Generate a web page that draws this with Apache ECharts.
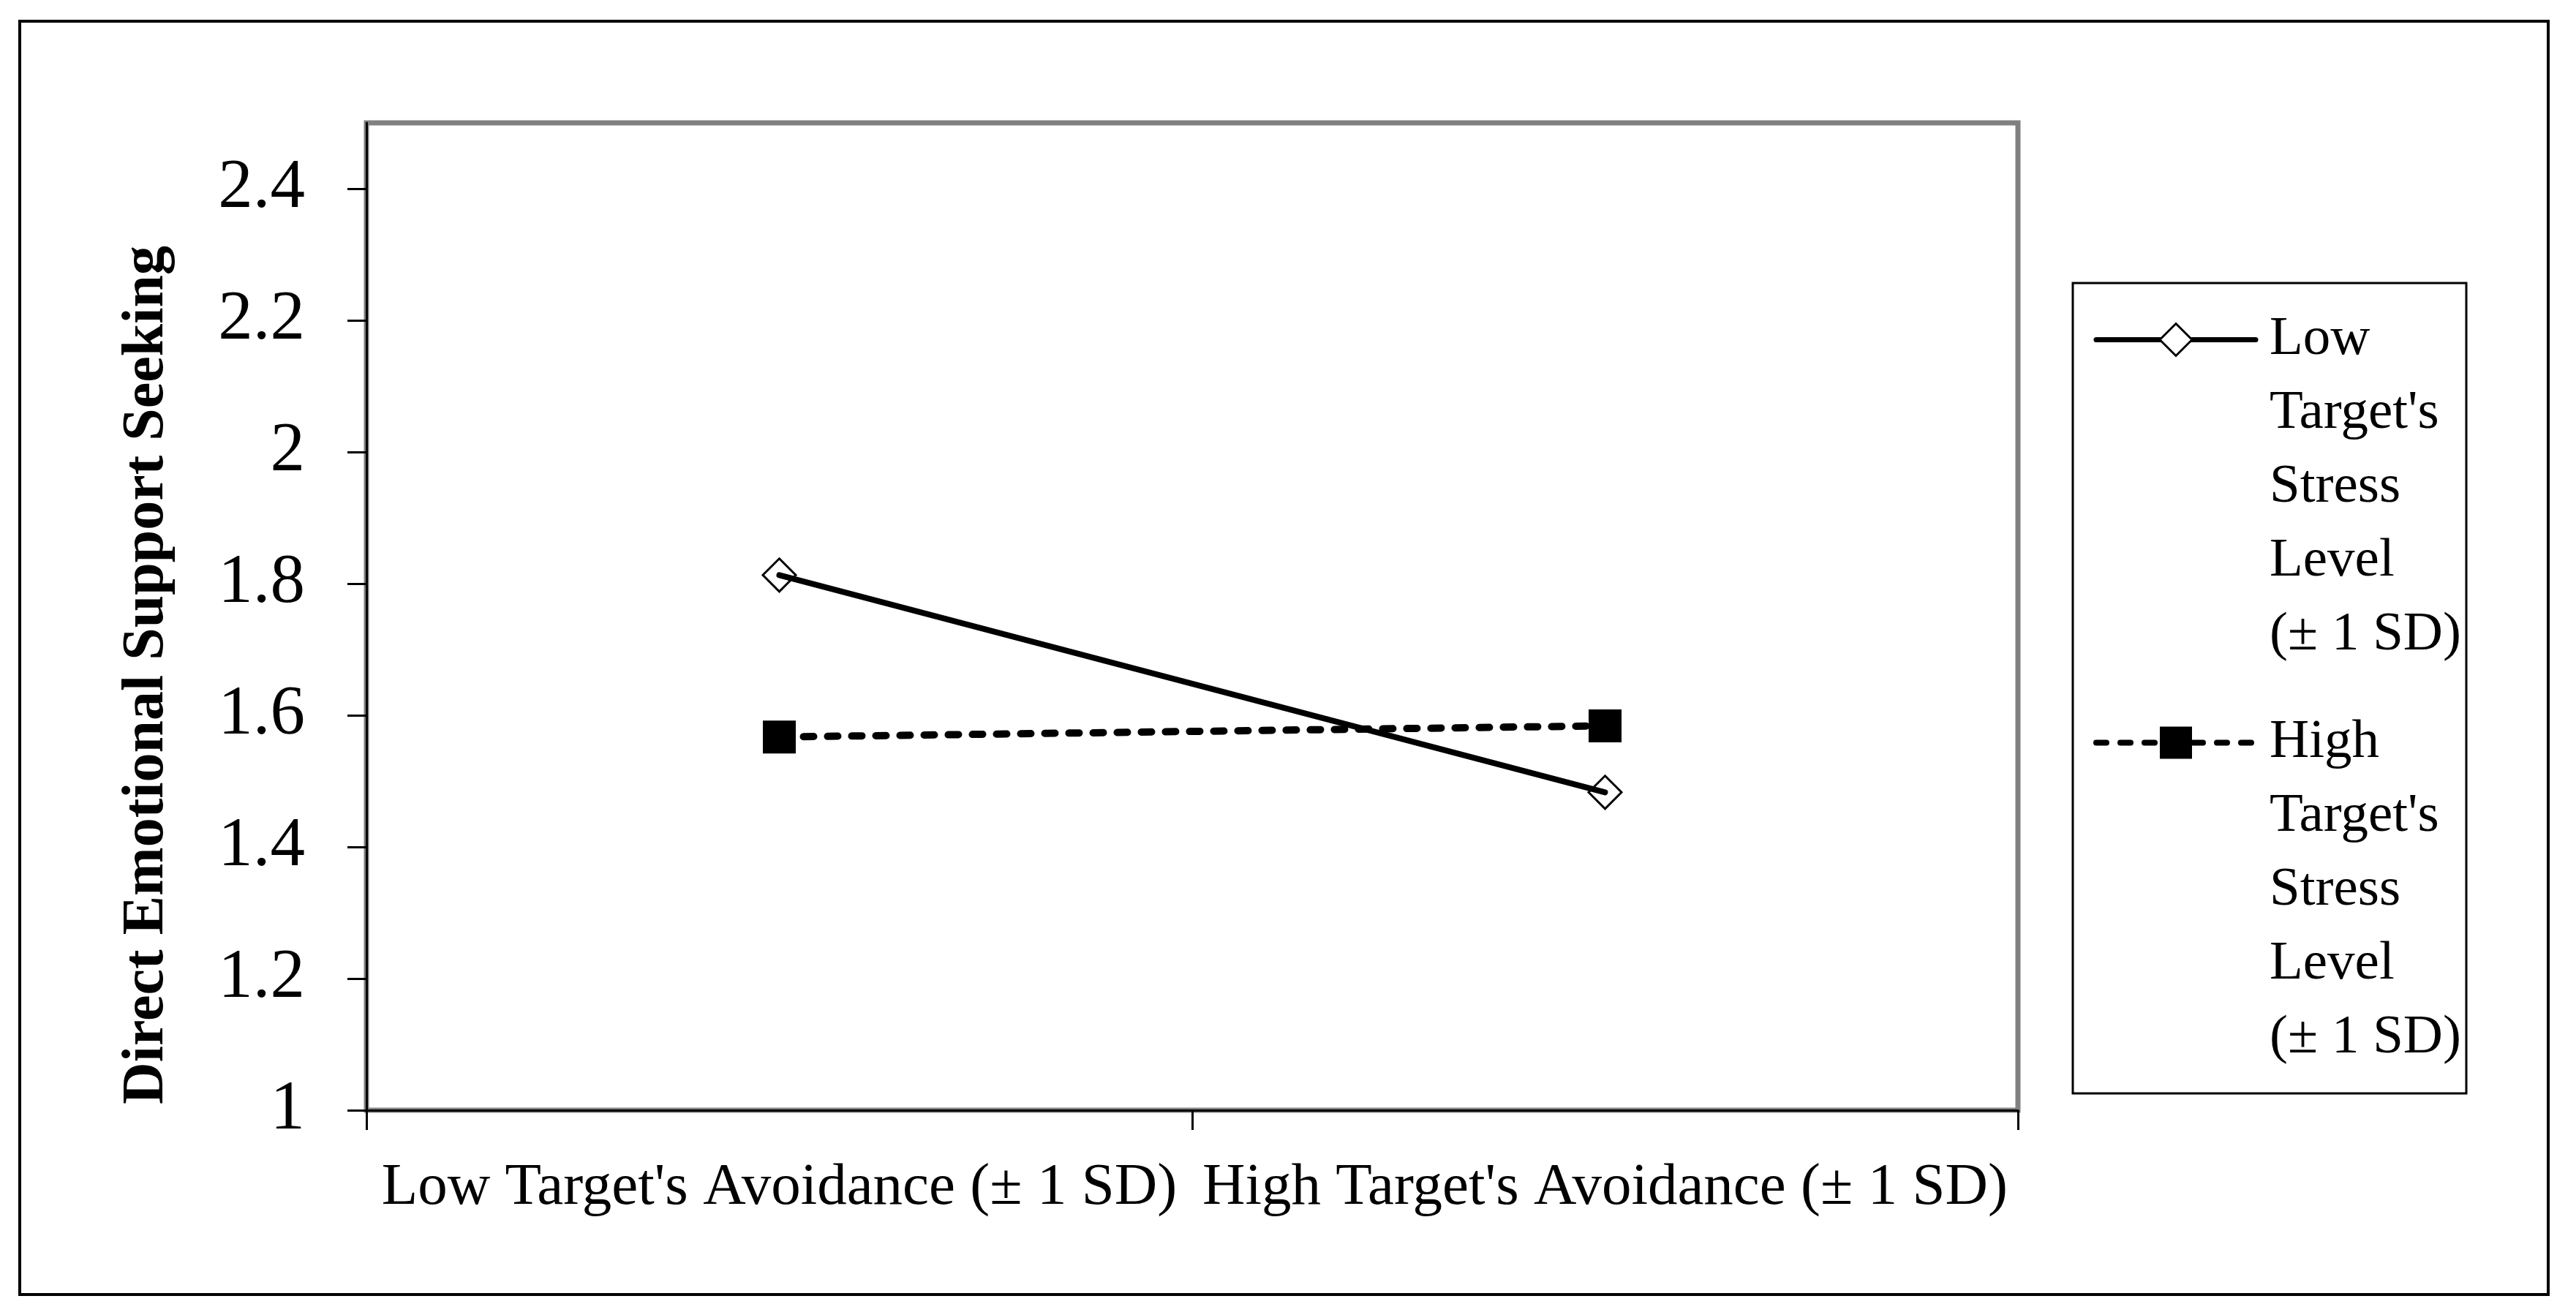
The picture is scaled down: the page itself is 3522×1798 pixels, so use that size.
<!DOCTYPE html>
<html>
<head>
<meta charset="utf-8">
<script src="https://cdn.jsdelivr.net/npm/echarts@6/dist/echarts.min.js"></script>
<style>
  html, body { margin: 0; padding: 0; background: #fff; }
  #chart { width: 3522px; height: 1798px; }
</style>
</head>
<body>
<div id="chart"></div>
<script>
// ---- data ----
const categories = ["Low Target's Avoidance (\u00B1 1 SD)", "High Target's Avoidance (\u00B1 1 SD)"];
const seriesNames = ["Low Target's Stress Level (\u00B1 1 SD)", "High Target's Stress Level (\u00B1 1 SD)"];
const legendLines = [
  ["Low", "Target's", "Stress", "Level", "(\u00B1 1 SD)"],
  ["High", "Target's", "Stress", "Level", "(\u00B1 1 SD)"]
];
const lowStress = [1.813, 1.483];
const highStress = [1.567, 1.584];
const yTicks = [1, 1.2, 1.4, 1.6, 1.8, 2, 2.2, 2.4];
const yTitle = "Direct Emotional Support Seeking";

const chart = echarts.init(document.getElementById('chart'), null, { renderer: 'canvas' });
const serif = "'Liberation Serif', 'Times New Roman', serif";

// legend text: first line must sit on the icon, so pad with blank lines above
function legendText(name) {
  const idx = seriesNames.indexOf(name);
  const lines = legendLines[idx];
  const blanks = new Array(lines.length - 1).fill('');
  return blanks.concat(lines).join('\n');
}

const option = {
  backgroundColor: '#ffffff',
  animation: false,
  graphic: [
    {
      type: 'rect',
      shape: { x: 27, y: 29, width: 3457, height: 1741 },
      style: { fill: 'none', stroke: '#000', lineWidth: 4 },
      silent: true, z: -1
    },
    {
      type: 'rect',
      shape: { x: 2834, y: 387, width: 538, height: 1108 },
      style: { fill: 'none', stroke: '#000', lineWidth: 3 },
      silent: true, z: 10
    }
  ],
  grid: {
    left: 501, right: 763, top: 168, bottom: 280,
    show: true, borderColor: '#808080', borderWidth: 7, backgroundColor: 'transparent'
  },
  legend: {
    orient: 'vertical',
    left: 2834, top: 0,
    padding: [10, 0, 0, 28],
    itemGap: -358,
    itemWidth: 218,
    itemHeight: 55,
    borderWidth: 0,
    formatter: legendText,
    textStyle: {
      fontFamily: serif, fontSize: 75, lineHeight: 101, color: '#000',
      padding: [0, 0, 0, 14]
    },
    data: [
      { name: seriesNames[0], itemStyle: { color: '#fff', borderColor: '#000', borderWidth: 3 }, lineStyle: { width: 7 } },
      { name: seriesNames[1], lineStyle: { width: 8 } }
    ]
  },
  xAxis: {
    type: 'category',
    data: categories,
    boundaryGap: true,
    axisLine: { show: true, lineStyle: { color: '#000', width: 3 } },
    axisTick: { show: true, length: 27, lineStyle: { color: '#000', width: 3 } },
    axisLabel: { fontFamily: serif, fontSize: 81, lineHeight: 90, color: '#000', margin: 62, interval: 0 },
    splitLine: { show: false }
  },
  yAxis: {
    type: 'value',
    min: 1, max: 2.5,
    name: yTitle,
    nameLocation: 'middle',
    nameGap: 255,
    nameRotate: 90,
    nameTextStyle: { fontFamily: serif, fontSize: 80, fontWeight: 'bold', color: '#000', lineHeight: 90, padding: [0, 160, 0, 0] },
    axisLine: { show: true, lineStyle: { color: '#000', width: 3 } },
    axisTick: { show: true, length: 26, customValues: yTicks, lineStyle: { color: '#000', width: 3 } },
    axisLabel: { fontFamily: serif, fontSize: 95, color: '#000', margin: 84, customValues: yTicks },
    splitLine: { show: false }
  },
  series: [
    {
      name: seriesNames[0],
      type: 'line',
      data: lowStress,
      symbol: 'diamond',
      symbolSize: 45,
      lineStyle: { color: '#000', width: 8, cap: 'round' },
      itemStyle: { color: 'rgba(0,0,0,0)', borderColor: '#000', borderWidth: 3 },
      z: 3
    },
    {
      name: seriesNames[1],
      type: 'line',
      data: highStress,
      symbol: 'rect',
      symbolSize: 45,
      lineStyle: { color: '#000', width: 10, type: [14, 19], cap: 'round' },
      itemStyle: { color: '#000', borderColor: '#000', borderWidth: 0 },
      z: 2
    }
  ]
};
chart.setOption(option);
</script>
</body>
</html>
